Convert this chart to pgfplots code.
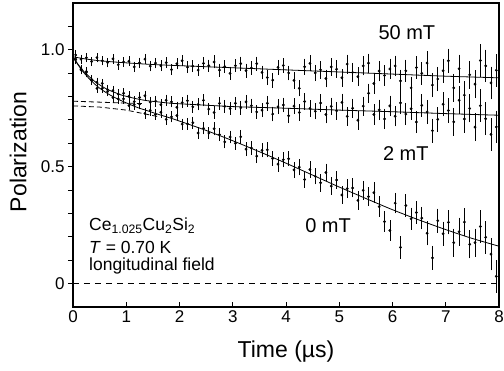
\documentclass[border=0pt]{standalone}
\usepackage{pgfplots}
\pgfplotsset{compat=1.18}
\usepackage{pgfplotstable}
\usepackage{fontspec}
\setmainfont{Liberation Sans}

\pgfplotstableread{
t y e
0.05 0.957 0.012
0.15 0.914 0.012
0.25 0.902 0.012
0.35 0.868 0.012
0.45 0.835 0.012
0.55 0.835 0.012
0.65 0.829 0.013
0.75 0.795 0.013
0.85 0.790 0.013
0.95 0.790 0.013
1.05 0.761 0.013
1.15 0.765 0.015
1.25 0.768 0.015
1.35 0.728 0.015
1.45 0.741 0.015
1.55 0.724 0.015
1.65 0.733 0.016
1.75 0.702 0.016
1.85 0.713 0.016
1.95 0.719 0.016
2.05 0.682 0.016
2.15 0.683 0.018
2.25 0.688 0.018
2.35 0.644 0.018
2.45 0.664 0.018
2.55 0.644 0.018
2.65 0.662 0.020
2.75 0.637 0.020
2.85 0.606 0.020
2.95 0.627 0.020
3.05 0.600 0.020
3.15 0.628 0.022
3.25 0.575 0.022
3.35 0.580 0.022
3.45 0.545 0.022
3.55 0.570 0.022
3.65 0.572 0.024
3.75 0.535 0.024
3.85 0.511 0.024
3.95 0.530 0.024
4.05 0.534 0.024
4.15 0.486 0.027
4.25 0.498 0.027
4.35 0.445 0.027
4.45 0.488 0.027
4.55 0.459 0.027
4.65 0.431 0.030
4.75 0.475 0.030
4.85 0.417 0.030
4.95 0.443 0.030
5.05 0.379 0.030
5.15 0.406 0.033
5.25 0.409 0.033
5.35 0.356 0.033
5.45 0.399 0.033
5.55 0.372 0.033
5.65 0.389 0.036
5.75 0.329 0.036
5.85 0.265 0.036
5.95 0.227 0.036
6.05 0.344 0.036
6.15 0.155 0.040
6.25 0.334 0.040
6.35 0.277 0.040
6.45 0.304 0.040
6.55 0.280 0.040
6.65 0.215 0.044
6.75 0.110 0.044
6.85 0.269 0.044
6.95 0.213 0.044
7.05 0.262 0.044
7.15 0.175 0.052
7.25 0.222 0.052
7.35 0.263 0.052
7.45 0.168 0.052
7.55 0.175 0.052
7.65 0.244 0.062
7.75 0.198 0.062
7.85 0.126 0.062
7.95 0.031 0.062
}\zeromT

\pgfplotstableread{
t y e
0.05 0.960 0.012
0.15 0.917 0.012
0.25 0.907 0.012
0.35 0.873 0.012
0.45 0.861 0.012
0.55 0.856 0.012
0.65 0.821 0.013
0.75 0.825 0.013
0.85 0.810 0.013
0.95 0.814 0.013
1.05 0.801 0.013
1.15 0.778 0.015
1.25 0.796 0.015
1.35 0.803 0.015
1.45 0.776 0.015
1.55 0.780 0.015
1.65 0.765 0.016
1.75 0.784 0.016
1.85 0.777 0.016
1.95 0.754 0.016
2.05 0.774 0.016
2.15 0.782 0.018
2.25 0.756 0.018
2.35 0.766 0.018
2.45 0.784 0.018
2.55 0.746 0.018
2.65 0.732 0.020
2.75 0.771 0.020
2.85 0.758 0.020
2.95 0.749 0.020
3.05 0.771 0.020
3.15 0.752 0.022
3.25 0.777 0.022
3.35 0.761 0.022
3.45 0.734 0.022
3.55 0.742 0.022
3.65 0.771 0.024
3.75 0.725 0.024
3.85 0.756 0.024
3.95 0.764 0.024
4.05 0.718 0.024
4.15 0.759 0.027
4.25 0.732 0.027
4.35 0.779 0.027
4.45 0.749 0.027
4.55 0.737 0.027
4.65 0.772 0.030
4.75 0.723 0.030
4.85 0.758 0.030
4.95 0.739 0.030
5.05 0.775 0.030
5.15 0.715 0.033
5.25 0.750 0.033
5.35 0.699 0.033
5.45 0.759 0.033
5.55 0.814 0.033
5.65 0.723 0.036
5.75 0.743 0.036
5.85 0.704 0.036
5.95 0.760 0.036
6.05 0.716 0.036
6.15 0.773 0.040
6.25 0.725 0.040
6.35 0.748 0.040
6.45 0.691 0.040
6.55 0.762 0.040
6.65 0.734 0.044
6.75 0.654 0.044
6.85 0.702 0.044
6.95 0.767 0.044
7.05 0.740 0.044
7.15 0.692 0.052
7.25 0.784 0.052
7.35 0.704 0.052
7.45 0.749 0.052
7.55 0.669 0.052
7.65 0.761 0.062
7.75 0.705 0.062
7.85 0.638 0.062
7.95 0.670 0.062
}\twomT

\pgfplotstableread{
t y e
0.05 0.978 0.012
0.15 0.960 0.012
0.25 0.966 0.012
0.35 0.950 0.012
0.45 0.966 0.012
0.55 0.953 0.012
0.65 0.945 0.013
0.75 0.961 0.013
0.85 0.936 0.013
0.95 0.948 0.013
1.05 0.951 0.013
1.15 0.927 0.015
1.25 0.944 0.015
1.35 0.960 0.015
1.45 0.930 0.015
1.55 0.943 0.015
1.65 0.932 0.016
1.75 0.945 0.016
1.85 0.915 0.016
1.95 0.940 0.016
2.05 0.953 0.016
2.15 0.926 0.018
2.25 0.930 0.018
2.35 0.913 0.018
2.45 0.942 0.018
2.55 0.932 0.018
2.65 0.948 0.020
2.75 0.913 0.020
2.85 0.928 0.020
2.95 0.899 0.020
3.05 0.932 0.020
3.15 0.941 0.022
3.25 0.911 0.022
3.35 0.922 0.022
3.45 0.941 0.022
3.55 0.903 0.022
3.65 0.881 0.024
3.75 0.870 0.024
3.85 0.925 0.024
3.95 0.933 0.024
4.05 0.901 0.024
4.15 0.869 0.027
4.25 0.835 0.027
4.35 0.927 0.027
4.45 0.942 0.027
4.55 0.901 0.027
4.65 0.914 0.030
4.75 0.877 0.030
4.85 0.927 0.030
4.95 0.917 0.030
5.05 0.880 0.030
5.15 0.939 0.033
5.25 0.903 0.033
5.35 0.885 0.033
5.45 0.931 0.033
5.55 0.943 0.033
5.65 0.856 0.036
5.75 0.909 0.036
5.85 0.890 0.036
5.95 0.918 0.036
6.05 0.931 0.036
6.15 0.867 0.040
6.25 0.910 0.040
6.35 0.837 0.040
6.45 0.924 0.040
6.55 0.899 0.040
6.65 0.943 0.044
6.75 0.849 0.044
6.85 0.875 0.044
6.95 0.910 0.044
7.05 0.953 0.044
7.15 0.837 0.052
7.25 0.919 0.052
7.35 0.806 0.052
7.45 0.893 0.052
7.55 0.853 0.052
7.65 0.954 0.062
7.75 0.931 0.062
7.85 0.858 0.062
7.95 0.912 0.062
}\fiftymT

\begin{document}
\begin{tikzpicture}
\begin{axis}[
  scale only axis, width=426pt, height=304pt,
  xmin=0, xmax=8, ymin=-0.1, ymax=1.2,
  axis line style={black, line width=1.1pt},
  xtick={0,1,2,3,4,5,6,7,8},
  ytick={0,0.5,1}, yticklabels={0,0.5,1.0},
  minor ytick={0.1,0.2,0.3,0.4,0.6,0.7,0.8,0.9,1.1},
  xtick pos=bottom, ytick pos=left,
  xtick align=inside, ytick align=outside,
  major tick length=5pt, minor tick length=5pt,
  tick style={black, line width=0.9pt},
  /pgf/number format/assume math mode=true,
  tick label style={font=\fontsize{17}{20}\selectfont},
  label style={font=\fontsize{23}{27}\selectfont},
  xlabel={Time (µs)},
  ylabel={Polarization},
  xlabel style={at={(axis description cs:0.5,-0.148)}, anchor=center},
  ylabel style={at={(axis description cs:-0.129,0.51)}, anchor=center},
  error bars/error bar style={line width=0.65pt, black},
  error bars/error mark options={line width=0.65pt, mark size=1.8pt, black},
]
% zero line
\addplot[black, line width=0.9pt, dash pattern=on 6pt off 5pt] coordinates {(0,0) (8,0)};
% slow-component extrapolations
\addplot[black, line width=0.8pt, dash pattern=on 5pt off 3pt] coordinates {(0,0.780) (0.5,0.776) (1.0,0.772) (1.3,0.770)};
\addplot[black, line width=0.8pt, dash pattern=on 5pt off 3pt] coordinates {(0,0.760) (0.5,0.755) (1.0,0.742) (1.6,0.714)};
% data
\addplot[black, only marks, mark=*, mark size=1.2pt,
  error bars/.cd, y dir=both, y explicit] table[x=t, y=y, y error=e] {\fiftymT};
\addplot[black, only marks, mark=*, mark size=1.2pt,
  error bars/.cd, y dir=both, y explicit] table[x=t, y=y, y error=e] {\twomT};
\addplot[black, only marks, mark=*, mark size=1.2pt,
  error bars/.cd, y dir=both, y explicit] table[x=t, y=y, y error=e] {\zeromT};
% fits
\addplot[black, line width=0.8pt, smooth] coordinates {
(0,0.970) (0.1,0.966) (0.2,0.962) (0.5,0.953) (1,0.944) (1.5,0.937) (2,0.932) (3,0.923) (4,0.914) (5,0.905) (6,0.896) (7,0.887) (8,0.880)};
\addplot[black, line width=0.8pt, smooth] coordinates {
(0,0.970) (0.05,0.953) (0.1,0.936) (0.15,0.922) (0.2,0.908) (0.3,0.886) (0.4,0.866) (0.5,0.850) (0.6,0.836) (0.7,0.825) (0.8,0.816) (0.9,0.807) (1.0,0.801) (1.2,0.790) (1.4,0.782) (1.6,0.777) (1.8,0.772) (2.0,0.769) (2.5,0.763) (3,0.757) (4,0.750) (5,0.742) (6,0.735) (7,0.727) (8,0.720)};
\addplot[black, line width=0.8pt, smooth] coordinates {
(0,0.970) (0.05,0.951) (0.1,0.934) (0.15,0.918) (0.2,0.903) (0.25,0.890) (0.3,0.877) (0.35,0.866) (0.4,0.855) (0.45,0.845) (0.5,0.836) (0.6,0.820) (0.7,0.806) (0.8,0.794) (0.9,0.783) (1.0,0.773) (1.2,0.754) (1.4,0.739) (1.6,0.724) (1.8,0.710) (2.0,0.695) (2.5,0.655) (3,0.611) (3.5,0.564) (4,0.515) (4.5,0.464) (5,0.413) (5.5,0.364) (6,0.316) (6.5,0.272) (7,0.231) (7.5,0.193) (8,0.160)};
% annotations
\node[font=\fontsize{20}{24}\selectfont] at (axis cs:6.27,1.073) {50 mT};
\node[font=\fontsize{20}{24}\selectfont] at (axis cs:6.25,0.558) {2 mT};
\node[font=\fontsize{20}{24}\selectfont] at (axis cs:4.79,0.249) {0 mT};
\node[anchor=base west, inner sep=0pt, font=\fontsize{17.5}{21}\selectfont] at (axis cs:0.30,0.227) {Ce\textsubscript{1.025}Cu\textsubscript{2}Si\textsubscript{2}};
\node[anchor=base west, inner sep=0pt, font=\fontsize{17.5}{21}\selectfont] at (axis cs:0.30,0.129) {\textit{T} = 0.70 K};
\node[anchor=base west, inner sep=0pt, font=\fontsize{17.5}{21}\selectfont] at (axis cs:0.30,0.056) {longitudinal field};
\end{axis}
\pgfresetboundingbox
\path[use as bounding box] (-73pt,-64pt) rectangle (431pt,307pt);
\end{tikzpicture}
\end{document}
